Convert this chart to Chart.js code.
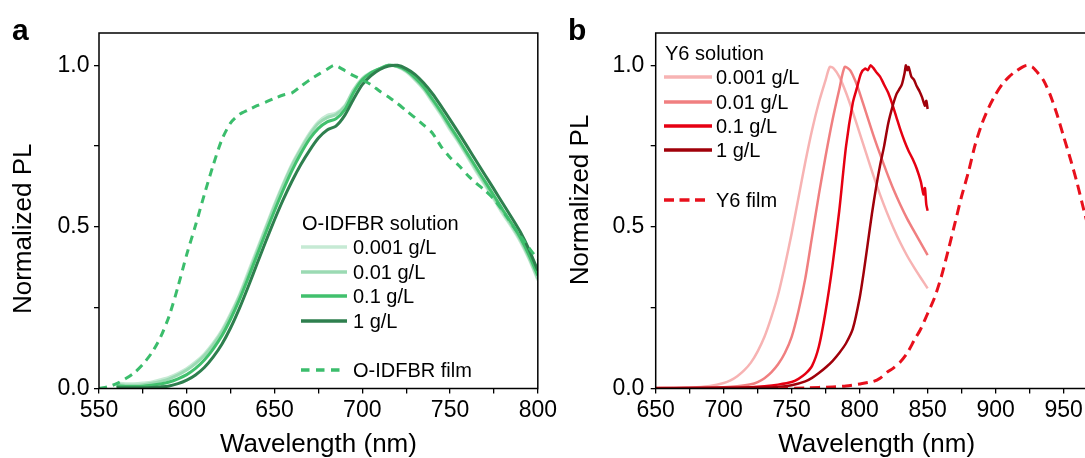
<!DOCTYPE html>
<html>
<head>
<meta charset="utf-8">
<script src="https://cdn.jsdelivr.net/npm/chart.js@4.4.1/dist/chart.umd.min.js"></script>
<style>
html,body{margin:0;padding:0;background:#fff;overflow:hidden}
#wrap{position:relative;width:1085px;height:458px;overflow:hidden;font-family:"Liberation Sans",Arial,sans-serif;color:#000}
canvas{position:absolute;top:0}
#ca{left:0}
#cb{left:560px}
.plab{position:absolute;font-weight:bold;font-size:30px;line-height:30px}
.leg{position:absolute;font-size:20px;height:24px;line-height:24px;white-space:nowrap}
</style>
</head>
<body>
<div id="wrap">
  <canvas id="ca" width="560" height="458"></canvas>
  <canvas id="cb" width="570" height="458"></canvas>
  <div class="plab" style="left:12px;top:15px">a</div>
  <div class="plab" style="left:568px;top:15px">b</div>
</div>
<script>
var FONT = '"Liberation Sans", Arial, sans-serif';
var concLabels = ['0.001 g/L', '0.01 g/L', '0.1 g/L', '1 g/L'];

// ---- panel a : O-IDFBR ----
var wlA = [560,565,570,575,580,585,590,595,600,605,610,615,620,625,630,635,640,645,650,655,660,665,670,675,680,685,690,695,700,705,710,715,720,725,730,735,740,745,750,755,760,765,770,775,780,785,790,795,800];
var oidA001 = [.017,.015,.015,.017,.02,.027,.035,.047,.062,.082,.107,.14,.18,.232,.29,.36,.43,.5,.57,.635,.695,.745,.79,.825,.845,.852,.875,.925,.96,.978,.99,1.0,.995,.98,.955,.925,.885,.845,.8,.76,.715,.67,.628,.585,.54,.5,.455,.4,.335];
var oidA01 = [.012,.01,.01,.012,.016,.022,.03,.042,.057,.077,.102,.135,.175,.226,.285,.352,.423,.494,.564,.63,.69,.74,.785,.82,.838,.848,.872,.922,.958,.978,.99,1.0,.996,.982,.958,.928,.89,.85,.806,.764,.72,.676,.633,.59,.546,.505,.46,.405,.34];
var oidA1 = [.008,.006,.006,.007,.01,.014,.02,.03,.043,.062,.088,.122,.163,.215,.275,.342,.412,.482,.55,.615,.675,.727,.772,.805,.825,.835,.862,.915,.955,.977,.99,1.0,.997,.985,.962,.933,.895,.855,.812,.77,.726,.683,.64,.597,.553,.512,.467,.413,.35];
var oidA10 = [.003,.002,.002,.002,.003,.005,.008,.015,.026,.042,.065,.097,.137,.188,.248,.315,.385,.455,.522,.585,.642,.693,.737,.775,.8,.812,.845,.895,.94,.968,.987,.998,1.0,.99,.972,.945,.912,.873,.832,.79,.747,.703,.66,.617,.573,.53,.485,.43,.365];
var filmAWl = [550,555,560,565,570,575,580,585,590,595,600,605,610,615,620,625,630,635,640,645,650,655,660,665,670,675,680,684,690,695,700,705,710,715,720,725,730,735,740,745,750,755,760,765,770,775,780,785,790,795,800,810];
var filmA = [0,.005,.015,.03,.048,.075,.11,.158,.225,.315,.415,.505,.6,.69,.77,.822,.848,.862,.875,.886,.898,.908,.915,.935,.955,.972,.988,1.0,.984,.968,.955,.94,.92,.902,.882,.86,.838,.815,.79,.748,.715,.69,.66,.635,.612,.586,.55,.51,.472,.435,.4,.34];

// ---- panel b : Y6 ----
var wlB001 = [650,670,680,690,700,705,710,715,720,725,730,735,740,745,750,755,760,765,770,775,778,781,785,790,795,800,805,810,815,820,825,830,835,840,845,850];
var y6B001 = [.002,.002,.004,.008,.017,.025,.038,.056,.08,.115,.16,.22,.29,.38,.48,.59,.7,.8,.885,.955,.995,.99,.965,.915,.855,.79,.725,.66,.6,.545,.495,.45,.41,.375,.342,.31];
var wlB01 = [650,680,700,710,720,725,730,735,740,745,750,755,760,765,770,775,780,785,789,793,797,800,805,810,815,820,825,830,835,840,845,850];
var y6B01 = [.002,.002,.004,.007,.013,.02,.032,.05,.075,.11,.16,.24,.34,.47,.6,.72,.83,.925,.995,.985,.95,.915,.85,.785,.725,.668,.615,.568,.525,.487,.45,.413];
var wlB1 = [650,700,720,730,740,750,755,760,765,770,775,780,785,790,795,798,801,804,806,808,810,812,815,818,821,824,827,830,833,836,839,842,845,847,848,849,850];
var y6B1 = [.001,.002,.004,.007,.012,.02,.03,.045,.07,.13,.24,.38,.55,.75,.885,.93,.975,.99,.985,1.0,.992,.98,.965,.94,.915,.88,.84,.8,.765,.735,.71,.68,.64,.6,.62,.57,.55];
var wlB10 = [650,700,720,740,750,760,765,770,775,780,785,790,795,800,803,806,809,812,815,818,821,824,827,829,831,833,834,835,836,838,840,842,844,846,848,849,850];
var y6B10 = [.001,.002,.003,.005,.01,.022,.033,.048,.065,.085,.11,.14,.185,.28,.36,.45,.54,.62,.69,.75,.82,.87,.91,.925,.94,.975,1.0,.985,.995,.965,.955,.935,.92,.9,.875,.89,.865];
var filmBWl = [740,760,780,790,800,810,815,820,825,830,835,840,845,850,855,860,865,870,875,880,885,890,895,900,905,910,915,920,923,927,930,935,940,945,950,955,960,965,970,980,990,1000];
var filmB = [0,.002,.005,.008,.014,.022,.032,.05,.064,.083,.11,.148,.185,.232,.28,.345,.425,.51,.595,.67,.755,.82,.87,.91,.942,.965,.982,.995,1.0,.995,.982,.955,.91,.85,.78,.71,.635,.55,.47,.32,.2,.12];

var greens = ['#c6ead4', '#9bdab3', '#41c06d', '#2e7f4e'];
var greenFilm = '#3bbd6c';
var reds = ['#f7b3b3', '#f07f80', '#e60012', '#a0000a'];
var redFilm = '#e8101c';

function pts(xs, ys) {
  var out = [];
  for (var i = 0; i < xs.length; i++) out.push({x: xs[i], y: ys[i]});
  return out;
}

function line(xs, ys, color, w, order, dash) {
  return {
    data: pts(xs, ys), borderColor: color, borderWidth: w, pointRadius: 0,
    tension: 0.25, borderDash: dash || [], order: order, fill: false
  };
}

var frame = {
  id: 'frame',
  afterDatasetsDraw: function(chart) {
    var a = chart.chartArea, ctx = chart.ctx;
    ctx.save();
    ctx.strokeStyle = '#000';
    ctx.lineWidth = 1.5;
    ctx.strokeRect(a.left, a.top, a.right - a.left, a.bottom - a.top);
    ctx.restore();
  }
};

function panel(id, sets, o) {
  return new Chart(document.getElementById(id), {
    type: 'line',
    data: {datasets: sets},
    options: {
      responsive: false, animation: false, devicePixelRatio: 1,
      layout: {padding: {left: 0, top: 33, right: o.right, bottom: 0}},
      plugins: {legend: {display: false}, tooltip: {enabled: false}},
      scales: {
        x: {
          type: 'linear', min: o.xmin, max: o.xmax,
          afterFit: function(s) { s.height = 69.5; },
          border: {display: false},
          grid: {drawOnChartArea: false, drawTicks: true, tickLength: 5, color: '#000', lineWidth: 1.3},
          ticks: {
            stepSize: 25, autoSkip: false, maxRotation: 0, padding: 3, color: '#000',
            font: {family: FONT, size: 23},
            callback: function(v) { return v % 50 === 0 ? String(v) : ''; }
          },
          title: {display: true, text: 'Wavelength (nm)', color: '#000', padding: 0,
                  font: {family: FONT, size: 26, lineHeight: 1}}
        },
        y: {
          min: 0, max: 1.1,
          afterFit: function(s) { s.width = o.yw; },
          border: {display: false},
          grid: {drawOnChartArea: false, drawTicks: true, tickLength: 5, color: '#000', lineWidth: 1.3},
          ticks: {
            stepSize: 0.25, includeBounds: false, padding: o.ylp, color: '#000',
            font: {family: FONT, size: 23},
            callback: function(v) { return Math.abs(v * 2 - Math.round(v * 2)) < 1e-6 ? v.toFixed(1) : ''; }
          },
          title: {display: true, text: o.ytitle, color: '#000', padding: {top: o.ytp, bottom: 0},
                  font: {family: FONT, size: 26, lineHeight: 1}}
        }
      }
    },
    plugins: [frame]
  });
}

panel('ca', [
  line(filmAWl, filmA, greenFilm, 3, 0, [8, 6]),
  line(wlA, oidA10, greens[3], 3, 1),
  line(wlA, oidA1, greens[2], 3, 2),
  line(wlA, oidA01, greens[1], 3, 3),
  line(wlA, oidA001, greens[0], 3, 4)
], {xmin: 550, xmax: 800, right: 21, yw: 99, ylp: 4.5, ytp: 10.7, ytitle: 'Normalized PL     '});

panel('cb', [
  line(filmBWl, filmB, redFilm, 3, 0, [10, 6]),
  line(wlB10, y6B10, reds[3], 2.5, 1),
  line(wlB1, y6B1, reds[2], 2.5, 2),
  line(wlB01, y6B01, reds[1], 2.5, 3),
  line(wlB001, y6B001, reds[0], 2.5, 4)
], {xmin: 650, xmax: 975, right: 32.4, yw: 95.7, ylp: 6.3, ytp: 7.5, ytitle: '   Normalized PL'});

// legends drawn as html
function legend(o) {
  var box = document.getElementById('wrap');
  var t = document.createElement('div');
  t.className = 'leg';
  t.textContent = o.title;
  t.style.left = o.titleX + 'px';
  t.style.top = (o.titleY - 12) + 'px';
  box.appendChild(t);
  o.items.forEach(function(it, i) {
    var d = document.createElement('div');
    d.className = 'leg';
    d.style.left = o.x + 'px';
    d.style.top = (o.ys[i] - 12) + 'px';
    var len = it.dash ? o.dashLen : o.len;
    d.innerHTML = '<svg width="' + len + '" height="24" style="position:absolute;left:0;top:0">' +
      '<line x1="0" y1="12" x2="' + len + '" y2="12" stroke="' + it.color + '" stroke-width="3.5"' +
      (it.dash ? ' stroke-dasharray="' + it.dash + '"' : '') + '/></svg>' +
      '<span style="position:absolute;left:' + o.textX + 'px;top:0">' + it.label + '</span>';
    box.appendChild(d);
  });
}

legend({
  title: 'O-IDFBR solution', titleX: 302, titleY: 223,
  x: 301, len: 46, dashLen: 40, textX: 52,
  ys: [247, 272, 296, 321, 370],
  items: [
    {label: concLabels[0], color: greens[0]},
    {label: concLabels[1], color: greens[1]},
    {label: concLabels[2], color: greens[2]},
    {label: concLabels[3], color: greens[3]},
    {label: 'O-IDFBR film', color: greenFilm, dash: '8.5 6.5'}
  ]
});

legend({
  title: 'Y6 solution', titleX: 665, titleY: 53,
  x: 664, len: 48, dashLen: 41, textX: 52,
  ys: [77, 102, 126, 150, 200],
  items: [
    {label: concLabels[0], color: reds[0]},
    {label: concLabels[1], color: reds[1]},
    {label: concLabels[2], color: reds[2]},
    {label: concLabels[3], color: reds[3]},
    {label: 'Y6 film', color: redFilm, dash: '10 5.5'}
  ]
});
</script>
</body>
</html>
